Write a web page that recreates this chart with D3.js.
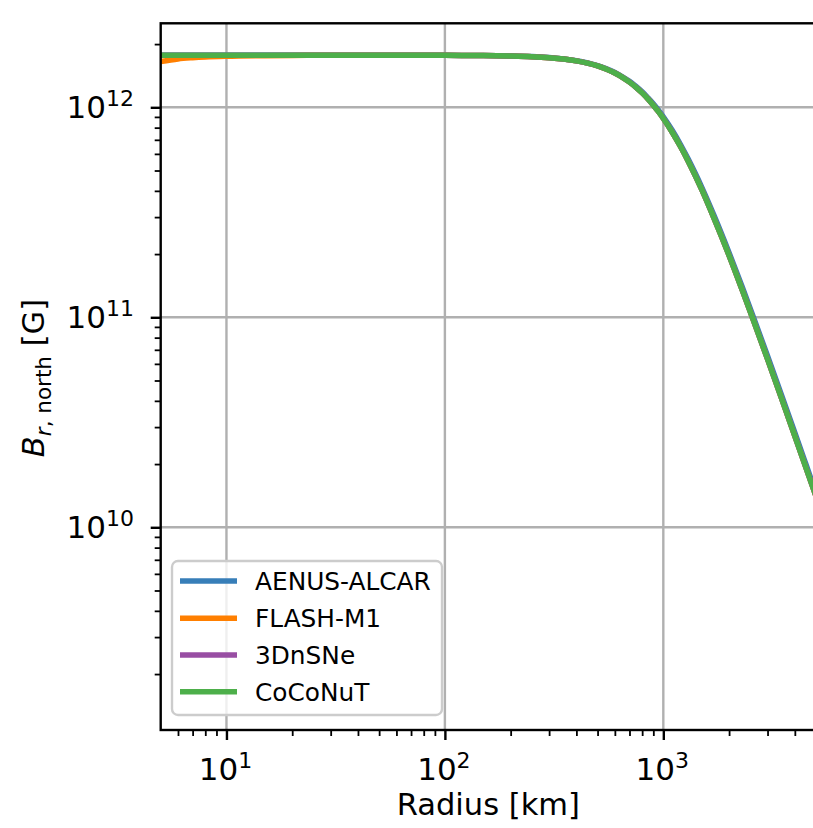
<!DOCTYPE html>
<html>
<head>
<meta charset="utf-8">
<script src="https://cdn.jsdelivr.net/npm/d3@7"></script>
<style>
  body { margin: 0; background: #fff; }
  svg { display: block; }
  text { font-family: "DejaVu Sans", sans-serif; fill: #000; }
</style>
</head>
<body>
<svg id="chart" width="813" height="828"></svg>
<script>
// ---- data (radius in km, B in Gauss) ----
const radius = [5, 6, 7, 8, 10, 15, 20, 30, 50, 70, 100, 150, 200, 250, 300, 350, 400, 450, 500, 550, 600, 650, 700, 750, 800, 850, 900, 950, 1000, 1100, 1200, 1300, 1400, 1500, 1700, 2000, 2300, 2600, 3000, 3500, 4000, 4500, 5000];

const aenusAlcar = [1.770e12, 1.770e12, 1.770e12, 1.770e12, 1.770e12, 1.770e12, 1.770e12, 1.770e12, 1.770e12, 1.770e12, 1.768e12, 1.764e12, 1.756e12, 1.744e12, 1.725e12, 1.699e12, 1.667e12, 1.626e12, 1.579e12, 1.524e12, 1.465e12, 1.398e12, 1.330e12, 1.257e12, 1.185e12, 1.110e12, 1.039e12, 0.968e12, 0.901e12, 0.775e12, 0.6635e12, 0.567e12, 0.485e12, 0.4158e12, 0.3083e12, 0.2030e12, 0.1389e12, 0.0985e12, 0.0654e12, 0.04177e12, 0.02820e12, 0.01990e12, 0.01456e12];

const flashM1 = [1.652e12, 1.700e12, 1.722e12, 1.736e12, 1.750e12, 1.762e12, 1.767e12, 1.770e12, 1.770e12, 1.770e12, 1.768e12, 1.764e12, 1.756e12, 1.743e12, 1.723e12, 1.697e12, 1.664e12, 1.622e12, 1.573e12, 1.518e12, 1.456e12, 1.389e12, 1.318e12, 1.245e12, 1.171e12, 1.097e12, 1.024e12, 0.953e12, 0.885e12, 0.759e12, 0.649e12, 0.554e12, 0.473e12, 0.405e12, 0.299e12, 0.197e12, 0.1344e12, 0.0953e12, 0.0632e12, 0.0403e12, 0.0272e12, 0.0192e12, 0.01405e12];

const dnSNe3 = [1.770e12, 1.770e12, 1.770e12, 1.770e12, 1.770e12, 1.770e12, 1.770e12, 1.770e12, 1.770e12, 1.770e12, 1.768e12, 1.764e12, 1.756e12, 1.743e12, 1.723e12, 1.697e12, 1.664e12, 1.622e12, 1.573e12, 1.518e12, 1.456e12, 1.389e12, 1.318e12, 1.245e12, 1.171e12, 1.097e12, 1.024e12, 0.953e12, 0.885e12, 0.759e12, 0.649e12, 0.554e12, 0.473e12, 0.405e12, 0.299e12, 0.197e12, 0.1344e12, 0.0953e12, 0.0632e12, 0.0403e12, 0.0272e12, 0.0192e12, 0.01405e12];

const coconut = [1.770e12, 1.770e12, 1.770e12, 1.770e12, 1.770e12, 1.770e12, 1.770e12, 1.770e12, 1.770e12, 1.770e12, 1.768e12, 1.764e12, 1.756e12, 1.743e12, 1.723e12, 1.697e12, 1.664e12, 1.622e12, 1.573e12, 1.518e12, 1.456e12, 1.389e12, 1.318e12, 1.245e12, 1.171e12, 1.097e12, 1.024e12, 0.953e12, 0.885e12, 0.759e12, 0.649e12, 0.554e12, 0.473e12, 0.405e12, 0.299e12, 0.197e12, 0.1344e12, 0.0953e12, 0.0632e12, 0.0403e12, 0.0272e12, 0.0192e12, 0.01405e12];

const seriesNames = ["AENUS-ALCAR", "FLASH-M1", "3DnSNe", "CoCoNuT"];
const seriesColors = ["#377eb8", "#ff7f00", "#984ea3", "#4daf4a"];
const seriesValues = [aenusAlcar, flashM1, dnSNe3, coconut];

const xDomain = [5, 5000];
const yDomain = [1.083e9, 2.512e12];
const xMajorTicks = [10, 100, 1000];
const xMajorExp = ["1", "2", "3"];
const yMajorTicks = [1e10, 1e11, 1e12];
const yMajorExp = ["10", "11", "12"];
const xMinorTicks = [6, 7, 8, 9, 20, 30, 40, 50, 60, 70, 80, 90, 200, 300, 400, 500, 600, 700, 800, 900, 2000, 3000, 4000, 5000];
const yMinorTicks = [2e9, 3e9, 4e9, 5e9, 6e9, 7e9, 8e9, 9e9, 2e10, 3e10, 4e10, 5e10, 6e10, 7e10, 8e10, 9e10, 2e11, 3e11, 4e11, 5e11, 6e11, 7e11, 8e11, 9e11, 2e12];
const xLabel = "Radius [km]";

// ---- layout ----
const L = 160.7, R = 816, T = 23.3, B = 730;
const svg = d3.select("#chart");
const x = d3.scaleLog().domain(xDomain).range([L, R]);
const y = d3.scaleLog().domain(yDomain).range([B, T]);

svg.append("defs").append("clipPath").attr("id", "clip")
  .append("rect").attr("x", L).attr("y", T).attr("width", R - L).attr("height", B - T);

// grid
const grid = svg.append("g");
grid.selectAll("line.gx").data(xMajorTicks).join("line")
  .attr("x1", d => x(d)).attr("x2", d => x(d)).attr("y1", T).attr("y2", B)
  .attr("stroke", "#b0b0b0").attr("stroke-width", 2.4);
grid.selectAll("line.gy").data(yMajorTicks).join("line")
  .attr("y1", d => y(d)).attr("y2", d => y(d)).attr("x1", L).attr("x2", R)
  .attr("stroke", "#b0b0b0").attr("stroke-width", 2.4);

// lines
const line = d3.line().x((d, i) => x(radius[i])).y(d => y(d)).curve(d3.curveMonotoneX);
const lines = svg.append("g").attr("clip-path", "url(#clip)");
seriesValues.forEach((vals, k) => {
  lines.append("path").datum(vals)
    .attr("d", line)
    .attr("fill", "none")
    .attr("stroke", seriesColors[k])
    .attr("stroke-width", 5.5)
    .attr("stroke-linejoin", "round")
    .attr("stroke-linecap", "butt");
});

// axes ticks
const xAxisMajor = d3.axisBottom(x).tickValues(xMajorTicks).tickSize(10).tickFormat("");
const xAxisMinor = d3.axisBottom(x).tickValues(xMinorTicks).tickSize(6).tickFormat("");
const yAxisMajor = d3.axisLeft(y).tickValues(yMajorTicks).tickSize(10).tickFormat("");
const yAxisMinor = d3.axisLeft(y).tickValues(yMinorTicks).tickSize(6).tickFormat("");

function styleAxis(g, w) {
  g.select(".domain").remove();
  g.selectAll(".tick line").attr("stroke", "#000").attr("stroke-width", w);
}
svg.append("g").attr("transform", `translate(0,${B})`).call(xAxisMajor).call(g => styleAxis(g, 2.4));
svg.append("g").attr("transform", `translate(0,${B})`).call(xAxisMinor).call(g => styleAxis(g, 1.8));
svg.append("g").attr("transform", `translate(${L},0)`).call(yAxisMajor).call(g => styleAxis(g, 2.4));
svg.append("g").attr("transform", `translate(${L},0)`).call(yAxisMinor).call(g => styleAxis(g, 1.8));

// tick labels
xMajorTicks.forEach((v, i) => {
  const t = svg.append("text").attr("x", x(v) - 1).attr("y", 780)
    .attr("text-anchor", "middle").attr("font-size", 31);
  t.append("tspan").text("10");
  t.append("tspan").attr("font-size", 22).attr("dy", -12).text(xMajorExp[i]);
});
yMajorTicks.forEach((v, i) => {
  const t = svg.append("text").attr("x", 134).attr("y", y(v) + 11)
    .attr("text-anchor", "end").attr("font-size", 31);
  t.append("tspan").text("10");
  t.append("tspan").attr("font-size", 22).attr("dy", -12).text(yMajorExp[i]);
});

// spines
svg.append("rect").attr("x", L).attr("y", T).attr("width", R - L).attr("height", B - T)
  .attr("fill", "none").attr("stroke", "#000").attr("stroke-width", 2.4);

// axis labels
svg.append("text").attr("x", (L + R) / 2).attr("y", 815).attr("text-anchor", "middle")
  .attr("font-size", 30.5).text(xLabel);

const yl = svg.append("text").attr("transform", "translate(44,378) rotate(-90)")
  .attr("text-anchor", "middle").attr("font-size", 30.5);
yl.append("tspan").attr("font-style", "italic").text("B");
yl.append("tspan").attr("font-size", 21.5).attr("dy", 7).attr("font-style", "italic").text("r");
yl.append("tspan").attr("font-size", 21.5).text(", north");
yl.append("tspan").attr("dy", -7).text(" [G]");

// legend
const lg = svg.append("g");
lg.append("rect").attr("x", 172).attr("y", 561).attr("width", 270).attr("height", 154)
  .attr("rx", 6).attr("fill", "#fff").attr("fill-opacity", 0.8)
  .attr("stroke", "#cccccc").attr("stroke-width", 2.4);
const rowY = [581, 618.3, 655, 691.7];
seriesNames.forEach((name, k) => {
  lg.append("line").attr("x1", 180).attr("x2", 237).attr("y1", rowY[k]).attr("y2", rowY[k])
    .attr("stroke", seriesColors[k]).attr("stroke-width", 5.5);
  lg.append("text").attr("x", 255).attr("y", rowY[k]).attr("dy", "0.36em")
    .attr("font-size", 24.8).text(name);
});
</script>
</body>
</html>
